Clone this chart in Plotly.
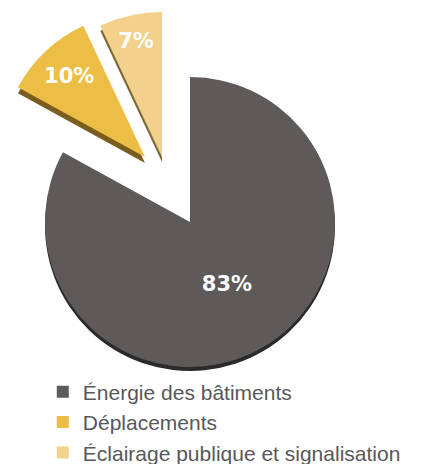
import plotly.graph_objects as go

labels = ["Énergie des bâtiments", "Déplacements", "Éclairage publique et signalisation"]
values = [83, 10, 7]
colors = ["#5e5a59", "#ecbe45", "#f1d18c"]
edge_colors = ["#2b2929", "#7a5c1e", "#7d6732"]
pct_text = ["83%", "10%", "7%"]

W, H = 428, 464
R = 145
# pie centres (pixels) for each exploded slice, and depth of the 3D edge
centers = [(190, 222), (145, 157), (162, 157)]
depth = [4, 6, 5]


def dom(cx, cy, r=R):
    return dict(x=[max(0, (cx - r) / W), min(1, (cx + r) / W)],
                y=[max(0, 1 - (cy + r) / H), min(1, 1 - (cy - r) / H)])


fig = go.Figure()
# 3D edge (drawn first, shifted down)
for i, (cx, cy) in enumerate(centers):
    cols = [edge_colors[j] if j == i else "rgba(0,0,0,0)" for j in range(len(values))]
    fig.add_trace(go.Pie(
        labels=labels, values=values, sort=False, direction="clockwise", rotation=0,
        marker=dict(colors=cols, line=dict(width=0)), textinfo="none",
        domain=dom(cx, cy + depth[i]), showlegend=False, hoverinfo="skip",
    ))
# faces
for i, (cx, cy) in enumerate(centers):
    cols = [colors[j] if j == i else "rgba(0,0,0,0)" for j in range(len(values))]
    tt = [pct_text[j] if j == i else "" for j in range(len(values))]
    fig.add_trace(go.Pie(
        labels=labels, values=values, sort=False, direction="clockwise", rotation=0,
        marker=dict(colors=cols, line=dict(width=0)),
        texttemplate=tt, textinfo="text", textposition="inside",
        insidetextorientation="horizontal",
        textfont=dict(family="DejaVu Sans", size=21, color="white", weight="bold"),
        domain=dom(cx, cy), showlegend=False, hoverinfo="skip",
    ))

# legend-only trace (negligible size)
fig.add_trace(go.Pie(
    labels=labels, values=values, sort=False, direction="clockwise",
    marker=dict(colors=colors, line=dict(width=0)), textinfo="none",
    domain=dict(x=[0, 0.0001], y=[0, 0.0001]), showlegend=True, hoverinfo="skip",
))

fig.update_layout(
    width=W, height=H,
    margin=dict(l=0, r=0, t=0, b=0, autoexpand=False),
    paper_bgcolor="white", plot_bgcolor="white",
    showlegend=True,
    legend=dict(x=0.100, y=0.199, xanchor="left", yanchor="top",
                font=dict(family="Liberation Sans, Arial", size=21, color="#58585a"),
                traceorder="normal", bgcolor="rgba(0,0,0,0)",
                tracegroupgap=0, itemclick=False),
)

fig.write_html("out.html", config={"displayModeBar": False},
               post_script="document.body.style.margin='0';")
